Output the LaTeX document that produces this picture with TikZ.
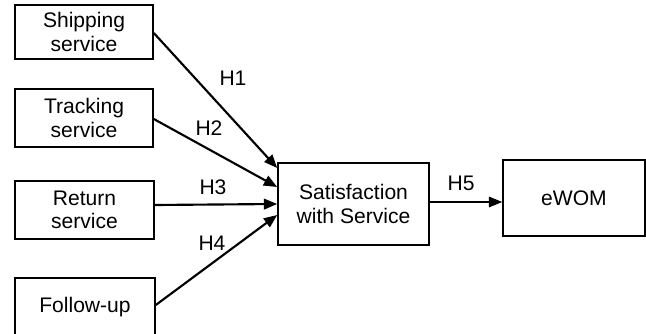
\documentclass[tikz,border=0pt]{standalone}
\usepackage{fontspec}
\setmainfont{Liberation Sans}
\usetikzlibrary{arrows.meta,positioning}

\begin{document}
\begin{tikzpicture}[x=0.75pt,y=-0.75pt,>={Triangle[length=10pt,width=8pt]},
                    box/.style={rectangle,draw,line width=1.2pt,align=center,
                      font=\fontsize{15.8pt}{17.6pt}\selectfont},
                    lbl/.style={font=\fontsize{15.8pt}{17.6pt}\selectfont}]
  \useasboundingbox (0,0) rectangle (646,334);
  \node[box,minimum width=103.5pt,minimum height=40.5pt] (ship) at (84,32) {Shipping\\service};
  \node[box,minimum width=103.5pt,minimum height=43.5pt] (track) at (84,118) {Tracking\\service};
  \node[box,minimum width=104.25pt,minimum height=43.5pt] (ret) at (84.5,210) {Return\\service};
  \node[box,minimum width=105pt,minimum height=43.5pt] (follow) at (85,307) {Follow-up};
  \node[box,minimum width=113.25pt,minimum height=61.5pt] (sat) at (353.5,204) {Satisfaction\\with Service};
  \node[box,minimum width=106.5pt,minimum height=57pt] (ewom) at (574,198) {eWOM};
  \path[line width=1.6pt]
    ([yshift=-0.75pt]ship.east) edge[->] ([yshift=27pt]sat.west)
    ([yshift=-0.75pt]track.east) edge[->] ([yshift=12.75pt]sat.west)
    ([yshift=3.75pt]ret.east) edge[->] (sat.west)
    ([yshift=1.5pt]follow.east) edge[->] ([yshift=-8.25pt]sat.west);
  \draw[->,line width=0.8pt] (sat.east |- 0,202) -- (ewom.west |- 0,202);
  \node[lbl] (h1) at (233,78) {H1};
  \node[lbl] (h2) at (209,128) {H2};
  \node[lbl] (h3) at (213,187) {H3};
  \node[lbl] (h4) at (212,243) {H4};
  \node[lbl] (h5) at (461,183) {H5};
\end{tikzpicture}
\end{document}
